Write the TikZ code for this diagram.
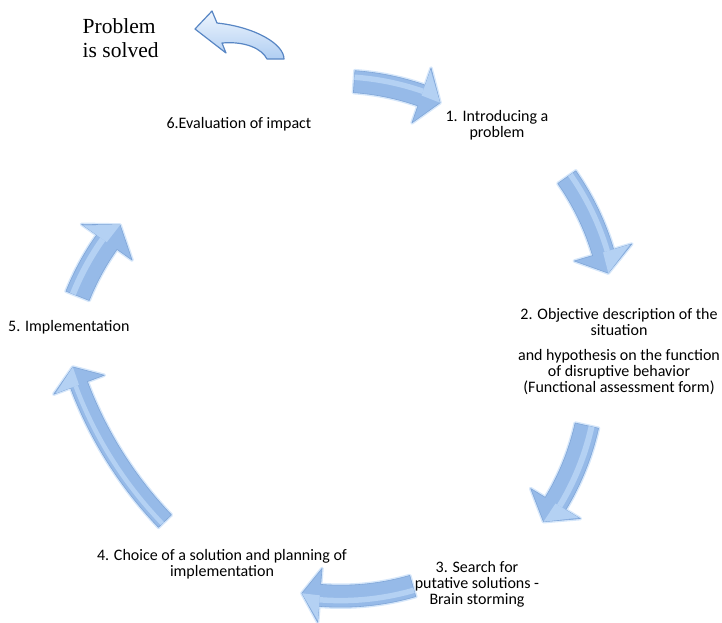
\documentclass[tikz,border=0pt]{standalone}
\usepackage{fontspec}
\setmainfont{Liberation Serif}
\newfontfamily\carlito{Carlito}
\definecolor{arrowbody}{RGB}{150,186,232}
\definecolor{arrowedge}{RGB}{128,166,216}
\definecolor{arrowglow}{RGB}{214,231,250}
\definecolor{arrowlight}{RGB}{180,209,243}
\definecolor{solvedtop}{RGB}{238,245,254}
\definecolor{solvedbot}{RGB}{176,206,242}
\definecolor{solvededge}{RGB}{88,134,196}
\tikzset{
  cycarrow/.style={fill=arrowbody, draw=arrowedge, line width=0.6pt, line join=round,
    preaction={draw=arrowglow, line width=3.5pt, line join=round}},
  cycstripe/.style={draw=arrowlight, line cap=butt},
  solvedarrow/.style={top color=solvedtop, bottom color=solvedbot, draw=solvededge,
    line width=1.2pt, line join=round},
  lbl/.style={font=\carlito\fontsize{16}{16}\selectfont, align=center, inner sep=0pt},
  solvedtext/.style={font=\fontsize{21.5}{24}\selectfont, align=left, inner sep=0pt}
}
% #1 cx, #2 cy, #3 r, #4 tail angle, #5 head base angle, #6 tip angle, #7 shaft half width, #8 head half width
\newcommand\cyclearrow[8]{%
  \path[cycarrow] plot[domain=#4:#5,samples=30] ({#1+(#3+#7)*cos(\x)},{#2+(#3+#7)*sin(\x)})
    -- ({#1+(#3+#8)*cos(#5)},{#2+(#3+#8)*sin(#5)})
    -- ({#1+#3*cos(#6)},{#2+#3*sin(#6)})
    -- ({#1+(#3-#8)*cos(#5)},{#2+(#3-#8)*sin(#5)})
    -- plot[domain=#5:#4,samples=30] ({#1+(#3-#7)*cos(\x)},{#2+(#3-#7)*sin(\x)})
    -- cycle;
  \draw[cycstripe, line width=0.5*#7] plot[domain=#4:#5,samples=30]
    ({#1+(#3+0.4*#7)*cos(\x)},{#2+(#3+0.4*#7)*sin(\x)});
  \fill[arrowlight] ({#1+(#3+#8-2)*cos(#5)},{#2+(#3+#8-2)*sin(#5)})
    -- ({#1+#3*cos(#6)},{#2+#3*sin(#6)})
    -- ({#1+#3*cos(#5)},{#2+#3*sin(#5)}) -- cycle;
}
\begin{document}
\begin{tikzpicture}[x=1pt,y=-1pt]
\useasboundingbox (0,0) rectangle (722,622);
% cycle arrows
\cyclearrow{336}{341}{260}{-86}{-70.8}{-66.4}{11}{29}
\cyclearrow{353.8}{326.3}{260}{-35}{-16.5}{-11.8}{11}{30}
\cyclearrow{333.1}{368.9}{260}{12.6}{31.2}{36}{12}{29}
\cyclearrow{340.7}{336.2}{260}{73.9}{94.6}{98.6}{11}{27}
\cyclearrow{453.4}{244}{400}{136.15}{159.4}{162.1}{9}{27}
\cyclearrow{319}{392.4}{260}{201.8}{215.3}{220.1}{12.5}{31}
% problem solved arrow
\draw[solvedarrow] (195,29) -- (212,11) -- (217,23)
  .. controls (255,27) and (284,44) .. (284,59) -- (267,59)
  .. controls (262,49) and (246,41) .. (222,43) -- (226,53) -- cycle;
% labels
\node[solvedtext, anchor=north west] (solved) at (82.5,18.5) {Problem\\is solved};
\node[lbl, anchor=base] (six) at (239,128) {6.Evaluation of impact};
\node[lbl, anchor=north] (one) at (497,110) {1. Introducing a\\problem};
\node[lbl, anchor=north] (two) at (619,308.5) {2. Objective description of the\\situation\\[9pt]and hypothesis on the function\\of disruptive behavior\\(Functional assessment form)};
\node[lbl, anchor=north] (three) at (477,561.5) {3. Search for\\putative solutions -\\Brain storming};
\node[lbl, anchor=north] (four) at (222,549) {4. Choice of a solution and planning of\\implementation};
\node[lbl, anchor=base west] (five) at (8,331) {5. Implementation};
\end{tikzpicture}
\end{document}
